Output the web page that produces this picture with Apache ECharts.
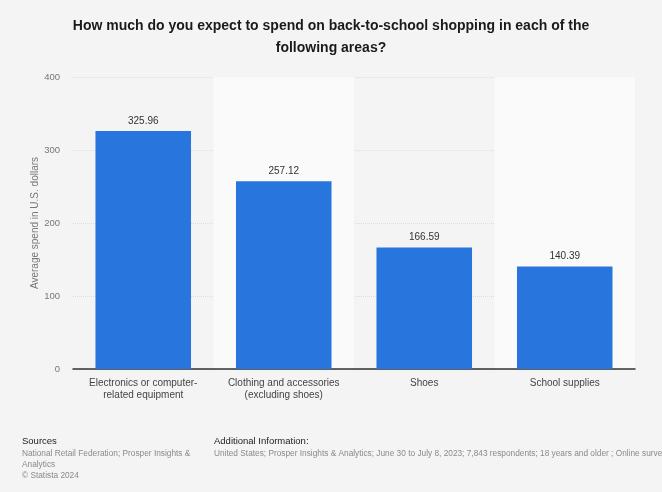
<!DOCTYPE html>
<html><head><meta charset="utf-8">
<script src="https://cdn.jsdelivr.net/npm/echarts@6/dist/echarts.min.js"></script>
<style>html,body{margin:0;padding:0;background:#f4f4f4;}#c{width:662px;height:492px;}</style>
</head><body><div id="c"></div>
<script>
const categories = ["Electronics or computer-\nrelated equipment", "Clothing and accessories\n(excluding shoes)", "Shoes", "School supplies"];
const values = [325.96, 257.12, 166.59, 140.39];
const yTicks = [0, 100, 200, 300, 400];
const titleText = "How much do you expect to spend on back-to-school shopping in each of the\nfollowing areas?";
const yAxisName = "Average spend in U.S. dollars";

const chart = echarts.init(document.getElementById('c'));
chart.setOption({
  backgroundColor: '#f4f4f4',
  animation: false,
  grid: { left: 73, right: 27, top: 77, bottom: 123, containLabel: false },
  xAxis: {
    type: 'category', data: categories,
    axisLine: { lineStyle: { color: '#333', width: 1.5 } },
    axisTick: { show: false },
    axisLabel: { color: '#444', fontSize: 10, fontFamily: 'Liberation Sans, Arial', lineHeight: 12, margin: 8, interval: 0 },
    splitArea: { show: true, areaStyle: { color: ['rgba(0,0,0,0)', '#fafafa'] } }
  },
  yAxis: {
    type: 'value', min: yTicks[0], max: yTicks[yTicks.length - 1], interval: 100,
    axisLine: { show: false }, axisTick: { show: false },
    axisLabel: { color: '#777', fontSize: 9.5, fontFamily: 'Liberation Sans, Arial', margin: 13 },
    splitLine: { lineStyle: { color: '#dddddd', width: 1, type: 'dotted' } }
  },
  series: [{
    type: 'bar', data: values, barWidth: '68%',
    itemStyle: { color: '#2876dd' },
    label: { show: true, position: 'top', distance: 5, color: '#333', fontSize: 10, fontFamily: 'Liberation Sans, Arial',
      formatter: p => p.value.toFixed(2) }
  }],
  graphic: [
    { type: 'text', x: 331, y: 15, style: { text: titleText, textAlign: 'center', fontSize: 14, fontWeight: 'bold', lineHeight: 22, fill: '#1a1a1a', fontFamily: 'Liberation Sans, Arial' } },
    { type: 'text', x: 35, y: 223, rotation: Math.PI / 2, style: { text: yAxisName, textAlign: 'center', textVerticalAlign: 'middle', fontSize: 10, fill: '#777', fontFamily: 'Liberation Sans, Arial' } },
    { type: 'text', left: 22, top: 436, style: { text: 'Sources', fontSize: 9.5, fill: '#222', fontFamily: 'Liberation Sans, Arial' } },
    { type: 'text', left: 22, top: 448, style: { text: 'National Retail Federation; Prosper Insights &\nAnalytics\n© Statista 2024', fontSize: 8.3, lineHeight: 11, fill: '#8a8a8a', fontFamily: 'Liberation Sans, Arial' } },
    { type: 'text', left: 214, top: 436, style: { text: 'Additional Information:', fontSize: 9.5, fill: '#222', fontFamily: 'Liberation Sans, Arial' } },
    { type: 'text', left: 214, top: 448, style: { text: 'United States; Prosper Insights & Analytics; June 30 to July 8, 2023; 7,843 respondents; 18 years and older ; Online survey', fontSize: 8.3, lineHeight: 11, fill: '#8a8a8a', fontFamily: 'Liberation Sans, Arial' } }
  ]
});
</script></body></html>
